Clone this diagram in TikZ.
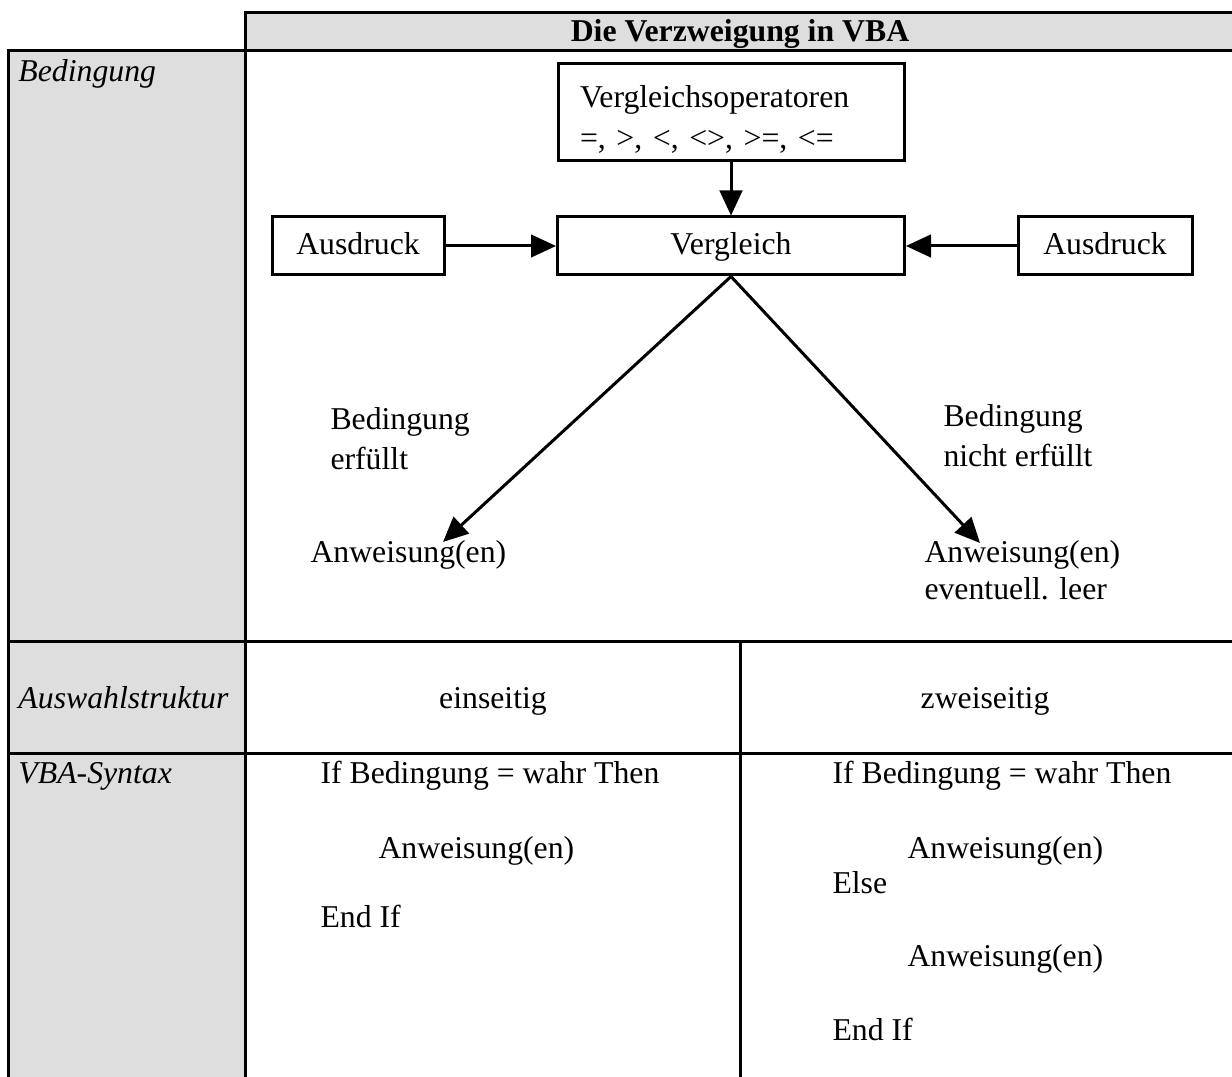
\documentclass[tikz,border=0pt]{standalone}
\usepackage{fontspec}
\setmainfont{Liberation Serif}
\usetikzlibrary{arrows.meta}
\definecolor{cellgray}{HTML}{DEDEDE}
\tikzset{
	rule/.style={black, line width=1.2pt},
	txt/.style={inner sep=0pt, anchor=base west, font=\fontsize{12.7}{14.8}\selectfont},
	ctxt/.style={txt, anchor=base},
	itxt/.style={txt, font=\fontsize{12.7}{14.8}\selectfont\itshape},
	box/.style={draw, line width=1.2pt, minimum height=23.2pt, inner sep=0pt, text height=0.85em, text depth=0.15em, font=\fontsize{12.7}{14.8}\selectfont},
	pfeil/.style={line width=1.2pt, -{Triangle[length=10pt,width=9pt]}}
}
\begin{document}
\begin{tikzpicture}[x=0.4pt,y=-0.4pt]
	\useasboundingbox (0,0) rectangle (1232,1077);
	% table
	\fill [cellgray] (245,13) rectangle (1232,51);
	\fill [cellgray] (8,51) rectangle (245,1077);
	\draw [rule] (245,1077) -- (245,13) -- (1232,13);
	\draw [rule] (8,1077) -- (8,51) -- (1232,51);
	\draw [rule] (8,641) -- (1232,641);
	\draw [rule] (8,753) -- (1232,753);
	\draw [rule] (740,641) -- (740,1077);
	\node [ctxt, font=\fontsize{12.7}{14.8}\selectfont\bfseries] (titel) at (740,42) {Die Verzweigung in VBA};
	\node [itxt] (bed) at (18,82) {Bedingung};
	\node [itxt] (ausw) at (18,708) {Auswahlstruktur};
	\node [itxt] (syntax) at (18,783) {VBA-Syntax};
	% diagram
	\node [draw, line width=1.2pt, minimum width=138.4pt, minimum height=38.8pt, text width=120.8pt, align=left, inner xsep=8.8pt, inner ysep=0pt, font=\fontsize{12.7}{14.8}\selectfont] (ops) at (731,112) {\rule{0pt}{1.15em}Vergleichsoperatoren\\[1.5pt]=, >, <, <>, >=, <=};
	\node [box, minimum width=138.8pt] (vgl) at (731,246) {Vergleich};
	\node [box, minimum width=68.8pt] (ausdr1) at (358,246) {Ausdruck};
	\node [box, minimum width=69.6pt] (ausdr2) at (1105,246) {Ausdruck};
	\draw [pfeil] (ops) -- (vgl);
	\draw [pfeil] (ausdr1) -- (vgl);
	\draw [pfeil] (ausdr2) -- (vgl);
	\coordinate (ja) at (443,542);
	\coordinate (nein) at (980,543);
	\draw [pfeil] (vgl.south) -- (ja);
	\draw [pfeil] (vgl.south) -- (nein);
	\node [txt] (erf1) at (330,430) {Bedingung};
	\node [txt] (erf2) at (330,470) {erfüllt};
	\node [txt] (nerf1) at (943,427) {Bedingung};
	\node [txt] (nerf2) at (943,467) {nicht erfüllt};
	\node [txt] (anw1) at (310,563) {Anweisung(en)};
	\node [txt] (anw2) at (924,563) {Anweisung(en)};
	\node [txt] (leer) at (924,600) {eventuell. leer};
	% Auswahlstruktur
	\node [ctxt] (ein) at (493,708) {einseitig};
	\node [ctxt] (zwei) at (985,708) {zweiseitig};
	% Syntax
	\node [txt] (if1) at (320,783) {If Bedingung = wahr Then};
	\node [txt] (s1) at (378,858) {Anweisung(en)};
	\node [txt] (end1) at (320,927) {End If};
	\node [txt] (if2) at (832,783) {If Bedingung = wahr Then};
	\node [txt] (s2) at (907,858) {Anweisung(en)};
	\node [txt] (else) at (832,893) {Else};
	\node [txt] (s3) at (907,966) {Anweisung(en)};
	\node [txt] (end2) at (832,1040) {End If};
\end{tikzpicture}
\end{document}
